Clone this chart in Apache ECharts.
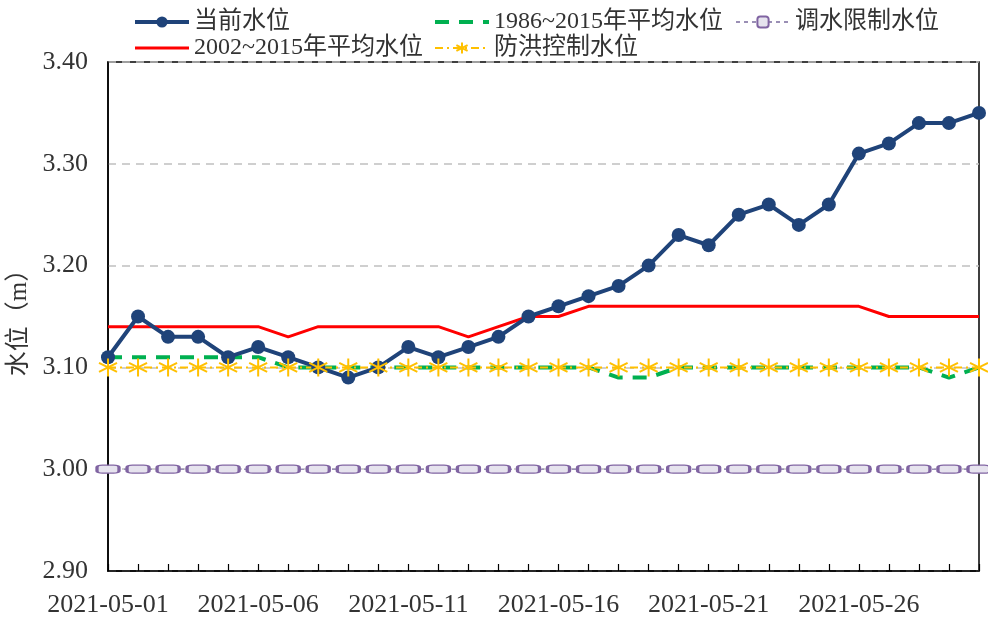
<!DOCTYPE html>
<html>
<head>
<meta charset="utf-8">
<style>
  html, body { margin: 0; padding: 0; background: #fff; }
  #chart { width: 988px; height: 623px; }
</style>
<script src="https://cdn.jsdelivr.net/npm/echarts@6/dist/echarts.min.js"></script>
</head>
<body>
<div id="chart"></div>
<script>
  // 日期
  var dates = [
    '2021-05-01', '2021-05-02', '2021-05-03', '2021-05-04', '2021-05-05',
    '2021-05-06', '2021-05-07', '2021-05-08', '2021-05-09', '2021-05-10',
    '2021-05-11', '2021-05-12', '2021-05-13', '2021-05-14', '2021-05-15',
    '2021-05-16', '2021-05-17', '2021-05-18', '2021-05-19', '2021-05-20',
    '2021-05-21', '2021-05-22', '2021-05-23', '2021-05-24', '2021-05-25',
    '2021-05-26', '2021-05-27', '2021-05-28', '2021-05-29', '2021-05-30'
  ]
  // 当前水位
  var current = [
    3.11, 3.15, 3.13, 3.13, 3.11, 3.12, 3.11, 3.10, 3.09, 3.10,
    3.12, 3.11, 3.12, 3.13, 3.15, 3.16, 3.17, 3.18, 3.20, 3.23,
    3.22, 3.25, 3.26, 3.24, 3.26, 3.31, 3.32, 3.34, 3.34, 3.35
  ]
  // 1986~2015年平均水位
  var avg1986 = [
    3.11, 3.11, 3.11, 3.11, 3.11, 3.11, 3.10, 3.10, 3.10, 3.10,
    3.10, 3.10, 3.10, 3.10, 3.10, 3.10, 3.10, 3.09, 3.09, 3.10,
    3.10, 3.10, 3.10, 3.10, 3.10, 3.10, 3.10, 3.10, 3.09, 3.10
  ]
  // 2002~2015年平均水位
  var avg2002 = [
    3.14, 3.14, 3.14, 3.14, 3.14, 3.14, 3.13, 3.14, 3.14, 3.14,
    3.14, 3.14, 3.13, 3.14, 3.15, 3.15, 3.16, 3.16, 3.16, 3.16,
    3.16, 3.16, 3.16, 3.16, 3.16, 3.16, 3.15, 3.15, 3.15, 3.15
  ]
  // 调水限制水位 / 防洪控制水位
  var limitLevel = dates.map(function () { return 3.00 })
  var floodLevel = dates.map(function () { return 3.10 })
  var yTicks = { min: 2.9, max: 3.4, interval: 0.1 }

  var serif = '"Liberation Serif", "Noto Sans CJK SC", serif'
  var star = 'path://M0,-10L0,10M-8.7,-5L8.7,5M-8.7,5L8.7,-5'

  var legendText = { fontFamily: serif, fontSize: 24, color: '#333', lineHeight: 26 }
  function legendAt(left, names) {
    return {
      orient: 'vertical', left: left, top: 4, itemGap: 0,
      itemWidth: 54, itemHeight: 14,
      textStyle: legendText, data: names
    }
  }
  // 只画线，不画点
  function lineOnly(name, w) {
    return { name: name, itemStyle: { opacity: 0 }, lineStyle: { width: w } }
  }

  var chart = echarts.init(document.getElementById('chart'))
  chart.setOption({
    animation: false,
    backgroundColor: '#fff',
    legend: [
      legendAt(128, [{ name: '当前水位', lineStyle: { width: 4 } }, lineOnly('2002~2015年平均水位', 3)]),
      legendAt(428, [lineOnly('1986~2015年平均水位', 4), '防洪控制水位']),
      legendAt(730, ['调水限制水位'])
    ],
    grid: {
      left: 108, right: 9, top: 62, bottom: 52,
      outerBoundsMode: 'none',
      show: true, borderColor: '#000', borderWidth: 1.5
    },
    xAxis: {
      type: 'category',
      data: dates,
      boundaryGap: false,
      axisLine: { lineStyle: { color: '#000', width: 1.5 } },
      axisTick: { inside: true, length: 7, interval: 0, lineStyle: { color: '#000', width: 1.2 } },
      axisLabel: { interval: 4, margin: 21, fontFamily: serif, fontSize: 26, color: '#333' },
      splitLine: { show: false }
    },
    yAxis: {
      type: 'value',
      min: yTicks.min, max: yTicks.max, interval: yTicks.interval,
      name: '水位（m）',
      nameLocation: 'middle',
      nameGap: 74,
      nameTextStyle: { fontFamily: serif, fontSize: 25, color: '#333' },
      axisLine: { show: true, lineStyle: { color: '#000', width: 1.5 } },
      axisTick: { show: false },
      axisLabel: {
        margin: 20, fontFamily: serif, fontSize: 26, color: '#333',
        formatter: function (v) { return v.toFixed(2) }
      },
      splitLine: { lineStyle: { color: '#c0c0c0', type: [8, 6], width: 1.5 } }
    },
    series: [
      {
        name: '调水限制水位', type: 'line', data: limitLevel,
        symbol: 'roundRect', symbolSize: [22, 8],
        lineStyle: { color: '#9a8fb5', width: 1.5, type: [4, 4] },
        itemStyle: { color: '#e6e3ee', borderColor: '#8064a2', borderWidth: 2 }
      },
      {
        name: '1986~2015年平均水位', type: 'line', data: avg1986,
        showSymbol: false, symbol: 'none',
        lineStyle: { color: '#00b050', width: 4, type: [14, 10] },
        itemStyle: { color: '#00b050' }
      },
      {
        name: '2002~2015年平均水位', type: 'line', data: avg2002,
        showSymbol: false, symbol: 'none',
        lineStyle: { color: '#ff0000', width: 3 },
        itemStyle: { color: '#ff0000' }
      },
      {
        name: '当前水位', type: 'line', data: current,
        symbol: 'circle', symbolSize: 14,
        lineStyle: { color: '#1f4379', width: 4 },
        itemStyle: { color: '#1f4379' }
      },
      {
        name: '防洪控制水位', type: 'line', data: floodLevel,
        symbol: star, symbolSize: 18,
        lineStyle: { color: '#ffc000', width: 2, type: [8, 4, 2, 4] },
        itemStyle: { color: '#ffc000', borderColor: '#ffc000', borderWidth: 2 }
      }
    ]
  })
</script>
</body>
</html>
